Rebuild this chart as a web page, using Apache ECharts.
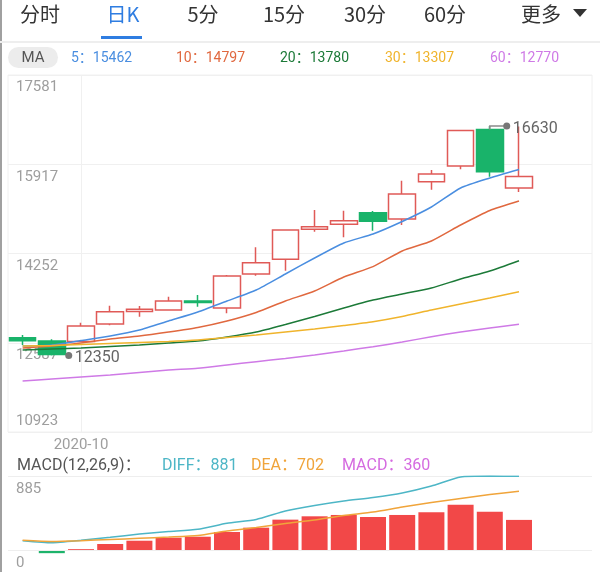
<!DOCTYPE html>
<html><head><meta charset="utf-8">
<script src="https://cdn.jsdelivr.net/npm/echarts@6/dist/echarts.min.js"></script>
<style>html,body{margin:0;padding:0;background:#fff}#c{width:600px;height:572px}</style>
</head><body><div id="c"></div>
<script>
// ---------- data ----------
const categories = ['2020-09-29','2020-09-30','2020-10-09','2020-10-12','2020-10-13','2020-10-14','2020-10-15','2020-10-16','2020-10-19','2020-10-20','2020-10-21','2020-10-22','2020-10-23','2020-10-26','2020-10-27','2020-10-28','2020-10-29','2020-10-30','2020-11-02','2020-11-03'];
const xAxisLabels = ['','','2020-10','','','','','','','','','','','','','','','','',''];
const kOpen  = [12680,12620,12610,12937,13170,13198,13366,13236,13870,14144,14703,14797,15013,14895,15591,15884,16565,15474];
const kClose = [12625,12370,12900,13167,13211,13366,13338,13832,14080,14690,14752,14864,14853,15362,15735,16546,15778,15688];
const kLow   = [12546,12350,12600,12913,13073,13190,13260,13137,13838,13931,14659,14554,14677,14784,15442,15822,15684,15399];
const kHigh  = [12732,12655,12962,13278,13273,13446,13478,13851,14368,14700,15063,15050,15045,15610,15809,16560,16630,16620];
const ma5  = [12527,12545,12629,12713,12825,12993,13161,13366,13571,13870,14168,14448,14616,14849,15119,15474,15660,15819];
const ma10 = [12490,12527,12583,12657,12713,12788,12872,12993,13152,13366,13553,13814,14008,14299,14485,14783,15054,15231];
const ma20 = [12452,12471,12490,12518,12545,12583,12620,12695,12788,12928,13077,13236,13385,13497,13609,13776,13926,14118];
const ma30 = [12527,12536,12555,12573,12592,12611,12639,12685,12732,12788,12844,12909,12980,13077,13198,13310,13422,13540];
const ma60 = [11874,11911,11949,11986,12033,12079,12111,12172,12234,12294,12359,12434,12514,12601,12700,12788,12863,12932];
const maPeriods = ['5','10','20','30','60'];
const maHeaderValues = [15462,14797,13780,13307,12770];
const yTickLabels = ['10923','12587','14252','15917','17581'];
const macdHist = [-8,-38,10,72,111,147,159,215,267,363,403,419,395,419,451,542,458,360];
const diff = [111,87,116,152,191,221,248,319,365,466,532,586,628,682,765,873,884,881];
const dea  = [116,102,111,126,140,155,173,227,269,317,359,413,454,514,568,616,664,702];
const macdTickLabels = ['','0','','','','885'];
const tabs = ['分时','日K','5分','15分','30分','60分','更多'];

// ---------- styling ----------
const maColors = ['#4a8ee0','#e0683f','#1c7a38','#f0b42c','#cf7ae6'];
const UP = '#e05a57', DOWN = '#19b36a';
const NUMFONT = 'Roboto, "Noto Sans CJK SC", sans-serif';
const CJKFONT = '"Noto Sans CJK SC", Roboto, sans-serif';
const Y_MIN = 10923, Y_MAX = 17581, Y_INT = (Y_MAX - Y_MIN) / 4;
const M_MAX = 885, M_INT = M_MAX / 4, M_MIN = -M_INT;

const kData = categories.map((c, i) => i < kOpen.length ? [kOpen[i], kClose[i], kLow[i], kHigh[i]] : '-');
const hiIdx = kHigh.indexOf(Math.max(...kHigh));
const loIdx = kLow.indexOf(Math.min(...kLow));
const extremes = [
  [hiIdx, kHigh[hiIdx], Math.max(kOpen[hiIdx], kClose[hiIdx]), 1],
  [loIdx, kLow[loIdx], Math.min(kOpen[loIdx], kClose[loIdx]), -1]
];

function txt(text, x, y, fill, font, align) {
  return {type:'text', x, y, silent:true, style:{text, fill, font, align: align||'left', verticalAlign:'middle', textAlign: align||'left', textVerticalAlign:'middle'}};
}
const tabX = [40,123,203,284,365,445,541];
const graphics = [
  {type:'rect', shape:{x:0,y:0,width:2,height:572}, style:{fill:'#a0a0a0'}, silent:true},
  {type:'rect', shape:{x:0,y:41,width:600,height:2}, style:{fill:'#eeeeee'}, silent:true},
  {type:'rect', shape:{x:101,y:36,width:41,height:3}, style:{fill:'#2f7de1'}, silent:true},
  {type:'polygon', shape:{points:[[573,9],[587,9],[580,17]]}, style:{fill:'#333'}, silent:true},
  {type:'rect', shape:{x:8,y:47,width:50,height:21,r:10.5}, style:{fill:'#ececec'}, silent:true},
  txt('MA', 33, 58, '#555', '15px ' + NUMFONT, 'center')
];
tabs.forEach((t, i) => graphics.push(txt(t, tabX[i], 14, i === 1 ? '#2f7de1' : '#333', '20px ' + CJKFONT, 'center')));
const maX = [71,176,280,385,490];
maPeriods.forEach((p, i) => graphics.push(txt(p + '：' + maHeaderValues[i], maX[i], 58, maColors[i], '14px ' + NUMFONT)));
graphics.push(txt('MACD(12,26,9)：', 17, 466, '#555', '16px ' + NUMFONT));
graphics.push(txt('DIFF：' + diff[diff.length-1], 162, 466, '#4db6c6', '16px ' + NUMFONT));
graphics.push(txt('DEA：' + dea[dea.length-1], 251, 466, '#f0a43a', '16px ' + NUMFONT));
graphics.push(txt('MACD：' + macdHist[macdHist.length-1], 342, 466, '#d56be0', '16px ' + NUMFONT));

const lineSeries = [ma5, ma10, ma20, ma30, ma60].map((d, i) => ({
  name: 'MA' + maPeriods[i], type:'line', data:d, xAxisIndex:0, yAxisIndex:0,
  symbol:'none', smooth:0.2, z:5, silent:true,
  lineStyle:{color:maColors[i], width:1.5}
}));

const option = {
  animation:false,
  backgroundColor:'#fff',
  graphic:{elements:graphics},
  grid:[
    {left:8, right:8, top:75, height:357, show:true, borderColor:'#f0f0f0', borderWidth:1, outerBoundsMode:'none', containLabel:false},
    {left:8, right:8, top:476, height:92.5, show:false, outerBoundsMode:'none', containLabel:false}
  ],
  xAxis:[
    {type:'category', gridIndex:0, data:categories, boundaryGap:true,
     axisLine:{show:false}, axisTick:{show:false}, splitLine:{show:false},
     axisLabel:{interval:0, margin:6, color:'#9e9e9e', fontSize:15, fontFamily:NUMFONT,
       formatter:(v, i) => xAxisLabels[i]}},
    {type:'category', gridIndex:1, data:categories, boundaryGap:true, show:false}
  ],
  yAxis:[
    {type:'value', gridIndex:0, position:'left', min:Y_MIN, max:Y_MAX, interval:Y_INT, scale:true,
     axisLine:{show:false}, axisTick:{show:false},
     splitLine:{show:true, lineStyle:{color:'#f0f0f0', width:1}},
     axisLabel:{inside:true, margin:8, verticalAlign:'top', padding:[5,0,0,0], color:'#9e9e9e', fontSize:15, fontFamily:NUMFONT,
       formatter:(v, i) => i === 0 ? '' : yTickLabels[i]}},
    {type:'value', gridIndex:0, position:'left', offset:0, min:Y_MIN, max:Y_MAX, interval:Y_INT, scale:true,
     axisLine:{show:false}, axisTick:{show:false}, splitLine:{show:false},
     axisLabel:{inside:true, margin:8, verticalAlign:'bottom', padding:[0,0,3,0], color:'#9e9e9e', fontSize:15, fontFamily:NUMFONT,
       formatter:(v, i) => i === 0 ? yTickLabels[0] : ''}},
    {type:'value', gridIndex:1, position:'left', min:M_MIN, max:M_MAX, interval:M_INT,
     axisLine:{show:false}, axisTick:{show:false}, splitLine:{show:false},
     axisLabel:{inside:true, margin:8, verticalAlign:'top', padding:[6,0,0,0], color:'#9e9e9e', fontSize:15, fontFamily:NUMFONT,
       formatter:(v, i) => macdTickLabels[i] || ''}}
  ],
  series:[
    {type:'candlestick', name:'K', data:kData, xAxisIndex:0, yAxisIndex:0, barWidth:27, z:3, silent:true,
     itemStyle:{color:'#ffffff', color0:DOWN, borderColor:UP, borderColor0:DOWN, borderWidth:1.5},
     markLine:{silent:true, symbol:['none','none'], label:{show:false}, z:1,
       lineStyle:{color:'#f0f0f0', type:'solid', width:1},
       data:[{xAxis:categories[2]}]}},
    ...lineSeries,
    {type:'custom', name:'extremes', xAxisIndex:0, yAxisIndex:0, data:extremes, z:10, silent:true, clip:false,
     renderItem:(params, api) => {
       const idx = api.value(0), v = api.value(1), body = api.value(2), dir = api.value(3);
       const p = api.coord([idx, v]);
       const b = api.coord([idx, body]);
       const w = api.size([1, 0])[0];
       const ex = p[0] + w * 0.58;
       const ch = [];
       if (dir > 0) ch.push({type:'polyline', shape:{points:[[p[0], b[1]], [p[0], p[1]], [ex, p[1]]]}, style:{stroke:'#8a8a8a', lineWidth:1.5, fill:null}});
       ch.push({type:'circle', shape:{cx:ex, cy:p[1], r:3.5}, style:{fill:'#777'}});
       ch.push({type:'text', x:ex + 6, y:p[1] + (dir > 0 ? 3 : 3), style:{text:String(v), fill:'#666', font:'16px ' + NUMFONT, align:'left', verticalAlign:'middle', textAlign:'left', textVerticalAlign:'middle'}});
       return {type:'group', children:ch};
     }},
    {type:'bar', name:'MACD', data:macdHist, xAxisIndex:1, yAxisIndex:2, barWidth:26, silent:true,
     itemStyle:{color:(p) => p.value >= 0 ? '#f24848' : '#1db36b'},
     markLine:{silent:true, symbol:['none','none'], label:{show:false},
       lineStyle:{color:'#eeeeee', type:'solid', width:1},
       data:[{yAxis:0}, {yAxis:M_MAX}]}},
    {type:'line', name:'DIFF', data:diff, xAxisIndex:1, yAxisIndex:2, symbol:'none', smooth:0.2, silent:true, z:5,
     lineStyle:{color:'#4db6c6', width:1.5}},
    {type:'line', name:'DEA', data:dea, xAxisIndex:1, yAxisIndex:2, symbol:'none', smooth:0.2, silent:true, z:5,
     lineStyle:{color:'#f0a43a', width:1.5}}
  ]
};
const chart = echarts.init(document.getElementById('c'), null, {renderer:'canvas'});
chart.setOption(option);
</script></body></html>
